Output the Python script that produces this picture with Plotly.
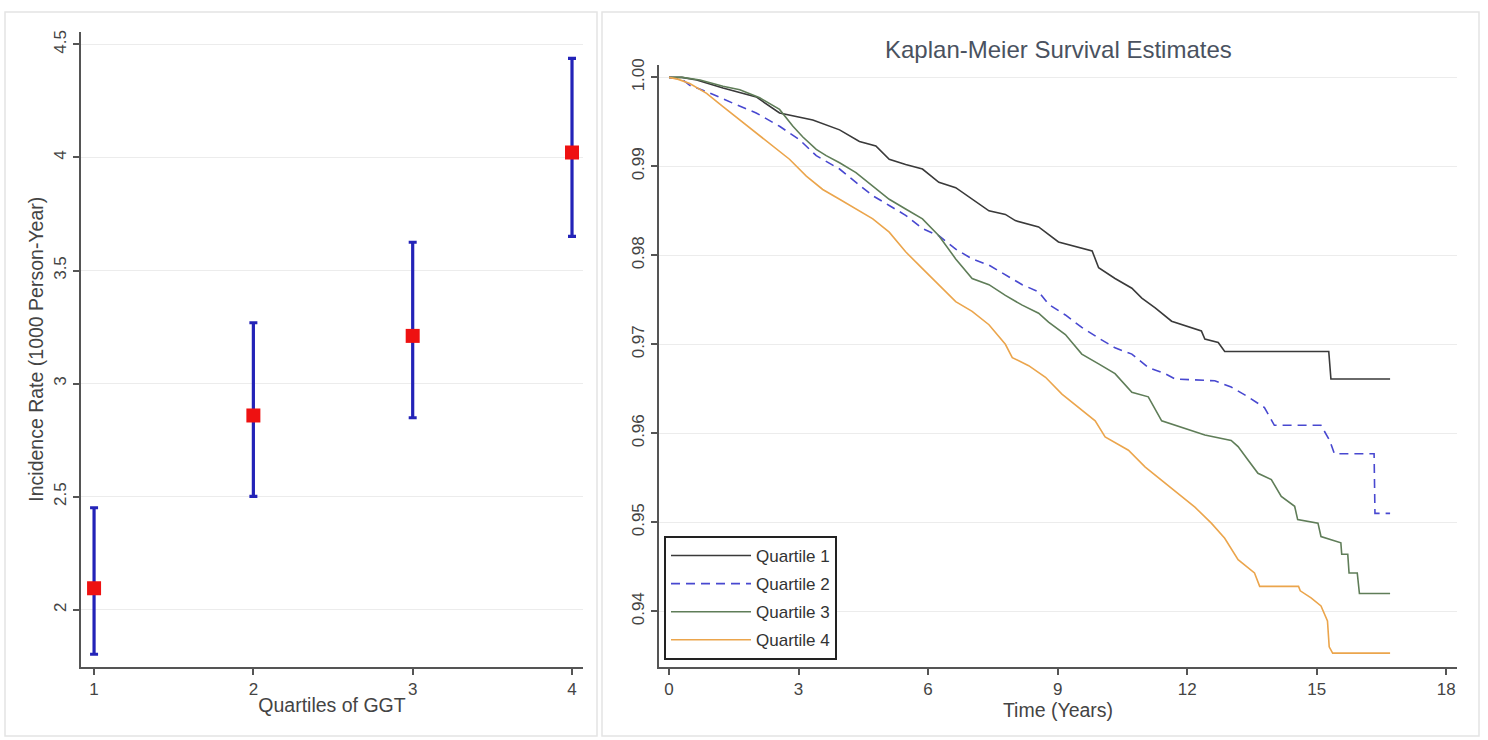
import plotly.graph_objects as go

# ---------------- Left panel data ----------------
quartiles = [1, 2, 3, 4]
incidence = [2.095, 2.859, 3.211, 4.022]
ci_upper = [2.451, 3.269, 3.625, 4.438]
ci_lower = [1.803, 2.501, 2.849, 3.651]
left_yticks = [2, 2.5, 3, 3.5, 4, 4.5]
left_yticklabels = ["2", "2.5", "3", "3.5", "4", "4.5"]

# ---------------- Right panel data (Kaplan-Meier) ----------------
q1_t = [0, 0.3, 0.64, 1.25, 2.02, 2.56, 3.33, 3.95, 4.41, 4.79, 5.10, 5.48, 5.87, 6.25,
        6.64, 7.02, 7.41, 7.79, 8.02, 8.56, 9.02, 9.80, 9.95, 10.33, 10.72, 10.95, 11.26,
        11.64, 12.03, 12.33, 12.41, 12.72, 12.87, 15.28, 15.33, 16.70]
q1_s = [1.0, 1.0, 0.9997, 0.9988, 0.9978, 0.9960, 0.9952, 0.9941, 0.9928, 0.9923, 0.9908,
        0.9902, 0.9897, 0.9882, 0.9876, 0.9863, 0.9850, 0.9846, 0.9839, 0.9832, 0.9815,
        0.9805, 0.9786, 0.9774, 0.9763, 0.9752, 0.9741, 0.9726, 0.9720, 0.9715, 0.9706,
        0.9702, 0.9692, 0.9692, 0.9661, 0.9661]

q2_t = [0, 0.3, 0.48, 0.87, 1.48, 2.02, 2.56, 3.02, 3.41, 3.95, 4.33, 4.72, 5.10, 5.48,
        5.87, 6.25, 6.64, 7.02, 7.41, 7.79, 8.18, 8.56, 8.79, 9.18, 9.56, 9.95, 10.33,
        10.72, 11.10, 11.49, 11.72, 12.64, 13.02, 13.41, 13.79, 14.02, 15.10, 15.30, 15.41,
        16.33, 16.35, 16.70]
q2_s = [1.0, 0.9998, 0.9991, 0.9984, 0.9971, 0.9960, 0.9945, 0.9930, 0.9912, 0.9897,
        0.9882, 0.9867, 0.9856, 0.9845, 0.9830, 0.9822, 0.9807, 0.9796, 0.9789, 0.9778,
        0.9767, 0.9759, 0.9745, 0.9733, 0.9719, 0.9707, 0.9696, 0.9689, 0.9674, 0.9667,
        0.9661, 0.9659, 0.9652, 0.9641, 0.9629, 0.9609, 0.9609, 0.9592, 0.9577, 0.9577,
        0.9510, 0.9510]

q3_t = [0, 0.3, 0.72, 1.25, 1.64, 2.10, 2.56, 2.87, 3.10, 3.41, 3.64, 3.95, 4.33, 4.72,
        5.10, 5.48, 5.87, 6.25, 6.48, 6.64, 7.02, 7.41, 7.79, 8.18, 8.56, 8.79, 9.18,
        9.56, 9.95, 10.33, 10.72, 11.10, 11.41, 11.87, 12.41, 13.02, 13.18, 13.41, 13.64,
        13.95, 14.18, 14.49, 14.56, 15.03, 15.10, 15.56, 15.58, 15.72, 15.75, 15.94, 15.99,
        16.70]
q3_s = [1.0, 1.0, 0.9997, 0.9990, 0.9986, 0.9977, 0.9964, 0.9945, 0.9933, 0.9919, 0.9912,
        0.9904, 0.9893, 0.9878, 0.9863, 0.9852, 0.9841, 0.9822, 0.9807, 0.9796, 0.9774,
        0.9767, 0.9755, 0.9744, 0.9735, 0.9725, 0.9711, 0.9689, 0.9678, 0.9667, 0.9646,
        0.9641, 0.9614, 0.9607, 0.9598, 0.9592, 0.9585, 0.9570, 0.9555, 0.9548, 0.9529,
        0.9518, 0.9503, 0.9499, 0.9484, 0.9477, 0.9464, 0.9464, 0.9443, 0.9443, 0.9420,
        0.9420]

q4_t = [0, 0.2, 0.48, 0.87, 1.25, 1.64, 2.02, 2.41, 2.79, 3.18, 3.56, 3.95, 4.33, 4.72,
        5.10, 5.48, 5.87, 6.25, 6.64, 7.02, 7.41, 7.79, 7.95, 8.33, 8.72, 9.10, 9.49, 9.87,
        10.10, 10.64, 11.03, 11.41, 11.79, 12.18, 12.56, 12.87, 13.18, 13.56, 13.68, 14.58,
        14.62, 14.87, 15.10, 15.25, 15.29, 15.37, 16.70]
q4_s = [1.0, 0.9998, 0.9993, 0.9982, 0.9967, 0.9952, 0.9938, 0.9923, 0.9908, 0.9889,
        0.9874, 0.9863, 0.9852, 0.9841, 0.9826, 0.9804, 0.9785, 0.9767, 0.9748, 0.9737,
        0.9722, 0.9700, 0.9685, 0.9676, 0.9663, 0.9644, 0.9629, 0.9614, 0.9596, 0.9581,
        0.9562, 0.9547, 0.9532, 0.9517, 0.9499, 0.9482, 0.9458, 0.9443, 0.9428, 0.9428,
        0.9423, 0.9415, 0.9406, 0.9389, 0.9360, 0.9353, 0.9353]

right_xticks = [0, 3, 6, 9, 12, 15, 18]
right_yticks = [0.94, 0.95, 0.96, 0.97, 0.98, 0.99, 1.00]

series_names = ["Quartile 1", "Quartile 2", "Quartile 3", "Quartile 4"]
series_colors = ["#3a3a3a", "#4848d0", "#5f7d58", "#eba54c"]
series_dash = ["solid", "9px,6px", "solid", "solid"]

W, H = 1488, 740
FONT = "Liberation Sans, Arial, sans-serif"
TXT = "#444444"
AX = "#555555"

fig = go.Figure()

# Left: point estimates with CI
fig.add_trace(go.Scatter(
    x=quartiles, y=incidence, mode="markers",
    marker=dict(symbol="square", size=14, color="#ee1111", line=dict(width=0)),
    error_y=dict(type="data", symmetric=False,
                 array=[u - v for u, v in zip(ci_upper, incidence)],
                 arrayminus=[v - l for v, l in zip(incidence, ci_lower)],
                 color="#2323b8", thickness=3.2, width=4),
    showlegend=False, xaxis="x", yaxis="y", hoverinfo="skip"))

# Right: KM curves
for t, s, name, col, dash in zip([q1_t, q2_t, q3_t, q4_t], [q1_s, q2_s, q3_s, q4_s],
                                 series_names, series_colors, series_dash):
    fig.add_trace(go.Scatter(
        x=t, y=s, mode="lines", name=name, line=dict(color=col, width=1.6, dash=dash),
        xaxis="x2", yaxis="y2", legendgroup=name))

def px_x(p):
    return p / W

def px_y(p):
    return 1 - p / H

common_axis = dict(showline=True, linecolor=AX, linewidth=2, ticks="outside", ticklen=6,
                   tickwidth=1.5, tickcolor=AX, zeroline=False,
                   tickfont=dict(family=FONT, size=17, color=TXT),
                   title_font=dict(family=FONT, size=19.5, color=TXT))

fig.update_layout(
    width=W, height=H, margin=dict(l=0, r=0, t=0, b=0),
    paper_bgcolor="white", plot_bgcolor="white",
    font=dict(family=FONT, color=TXT),
    xaxis=dict(domain=[px_x(81), px_x(583)], range=[0.918, 4.069], tickvals=quartiles,
               showgrid=False, anchor="y",
               title=dict(text="Quartiles of GGT", standoff=0), **common_axis),
    yaxis=dict(domain=[px_y(666), px_y(25)], range=[1.748, 4.556], tickvals=left_yticks,
               ticktext=left_yticklabels, tickangle=-90, showgrid=True, gridcolor="#ececec",
               gridwidth=1, anchor="x",
               title=dict(text="Incidence Rate (1000 Person-Year)", standoff=2), **common_axis),
    xaxis2=dict(domain=[px_x(659), px_x(1457)], range=[-0.232, 18.25], tickvals=right_xticks,
                showgrid=False, anchor="y2",
                title=dict(text="Time (Years)", standoff=0), **common_axis),
    yaxis2=dict(domain=[px_y(666), px_y(59)], range=[0.93377, 1.00134], tickvals=right_yticks,
                tickformat=".2f", tickangle=-90, showgrid=True, gridcolor="#ececec",
                gridwidth=1, anchor="x2", **common_axis),
    legend=dict(x=px_x(664), y=px_y(534), xanchor="left", yanchor="top",
                bgcolor="white", bordercolor="#222222", borderwidth=2,
                font=dict(family=FONT, size=17, color="#333333"),
                itemwidth=80, tracegroupgap=3, traceorder="grouped"),
    annotations=[dict(text="Kaplan-Meier Survival Estimates", x=px_x(1058), y=px_y(43),
                      xref="paper", yref="paper", xanchor="center", yanchor="middle",
                      showarrow=False,
                      font=dict(family=FONT, size=24, color="#4a5260"))],
    shapes=[
        dict(type="rect", xref="paper", yref="paper", x0=px_x(5), x1=px_x(597),
             y0=px_y(736), y1=px_y(5), line=dict(color="#e4e4e4", width=1.5), layer="below"),
        dict(type="rect", xref="paper", yref="paper", x0=px_x(602), x1=px_x(1479),
             y0=px_y(736), y1=px_y(5), line=dict(color="#e4e4e4", width=1.5), layer="below"),
    ],
)

fig.write_html("out.html", config={"displayModeBar": False},
               post_script="document.body.style.margin='0';document.body.style.overflow='hidden';")
